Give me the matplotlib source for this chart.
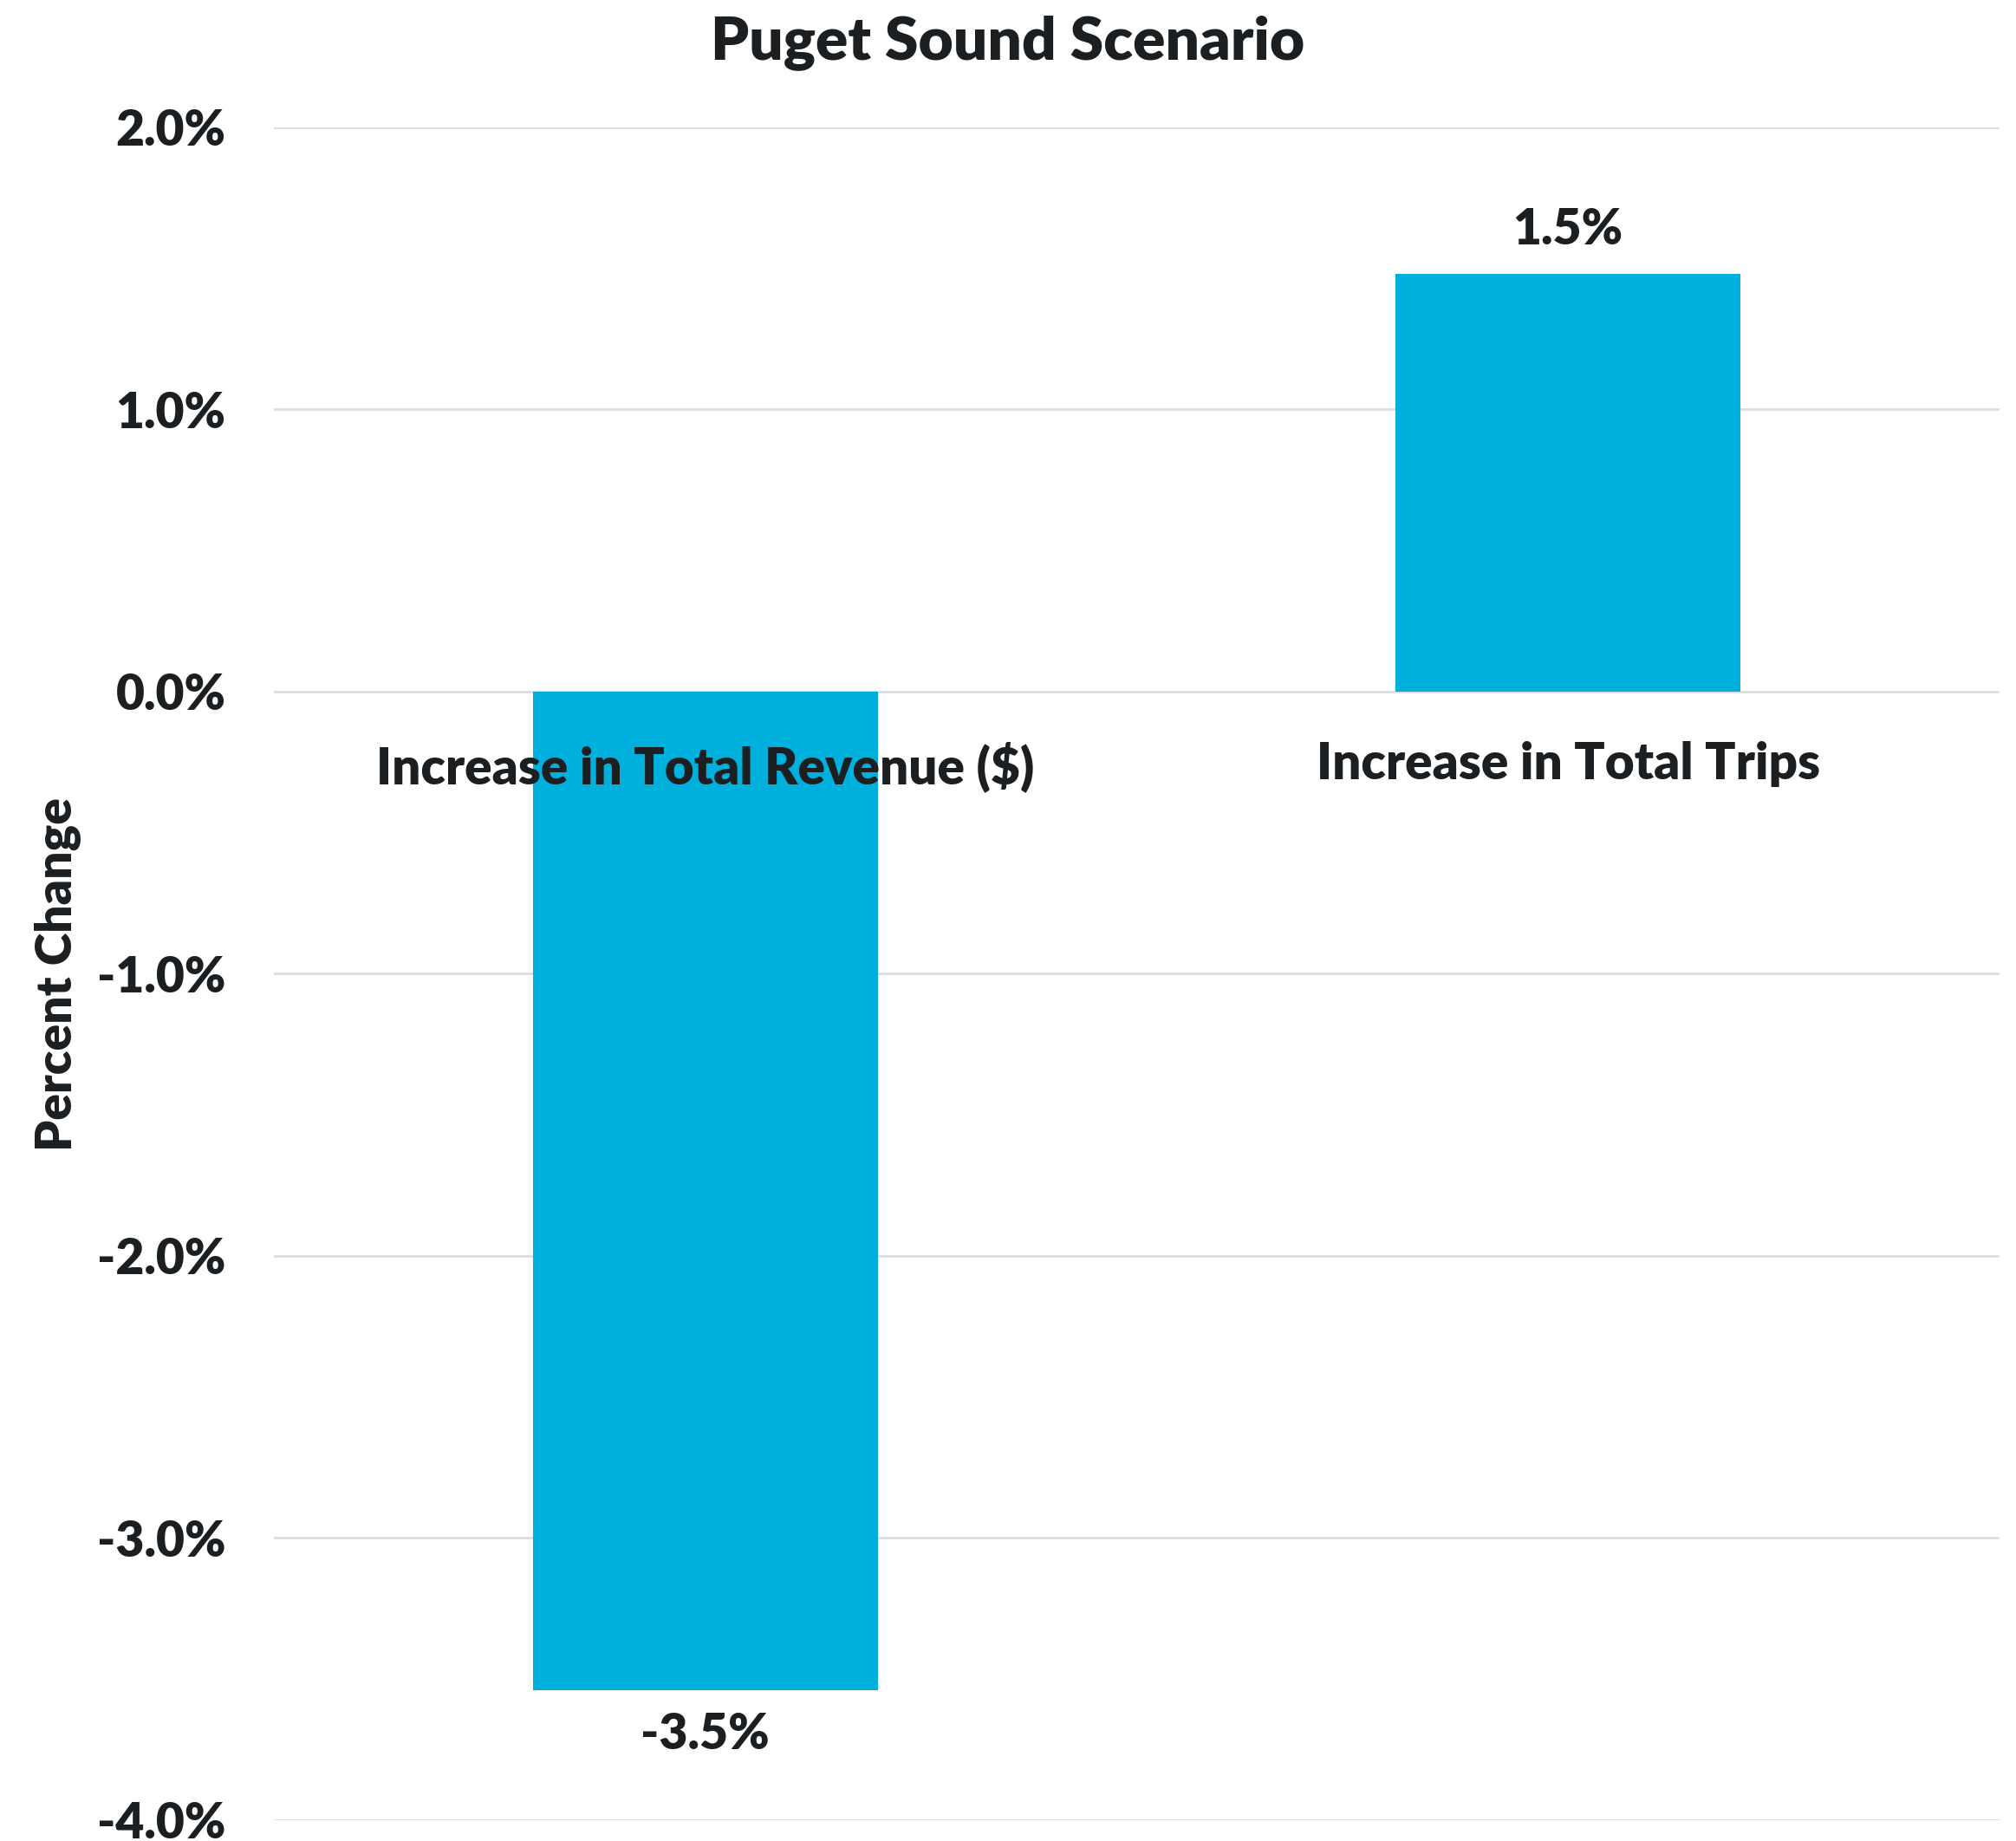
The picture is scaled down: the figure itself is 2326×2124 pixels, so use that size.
import matplotlib
matplotlib.use("Agg")
import matplotlib.pyplot as plt
from matplotlib.ticker import FuncFormatter

# Data
categories = ["Increase in Total Revenue ($)", "Increase in Total Trips"]
values = [-3.54, 1.48]
y_ticks = [-4.0, -3.0, -2.0, -1.0, 0.0, 1.0, 2.0]
title = "Puget Sound Scenario"
y_label = "Percent Change"

BAR_COLOR = "#00b0dc"
TEXT_COLOR = "#1b1f22"
GRID_COLOR = "#dadde1"
WEIGHT = "heavy"

plt.rcParams["font.family"] = ["Lato", "DejaVu Sans"]
plt.rcParams["font.weight"] = WEIGHT

fig = plt.figure(figsize=(23.26, 21.24), dpi=100)
ax = fig.add_axes([0.1359, 0.0113, 0.8559, 0.9195])

x = list(range(len(categories)))
bars = ax.bar(x, values, width=0.4, color=BAR_COLOR, zorder=2)

ax.set_xlim(-0.5, len(categories) - 0.5)
ax.set_ylim(y_ticks[0], y_ticks[-1])
ax.set_yticks(y_ticks)
ax.yaxis.set_major_formatter(FuncFormatter(lambda v, _: f"{v:.1f}%"))
ax.grid(axis="y", color=GRID_COLOR, linewidth=2)
ax.set_axisbelow(True)

for s in ax.spines.values():
    s.set_visible(False)
# Category labels sit just under the zero line, drawn over the bars
ax.spines["bottom"].set_position(("data", 0))
ax.xaxis.set_zorder(5)
ax.set_xticks(x)
ax.set_xticklabels(categories)
ax.tick_params(axis="x", length=0, pad=41, labelsize=42, labelcolor=TEXT_COLOR)
ax.tick_params(axis="y", length=0, pad=40, labelsize=41, labelcolor=TEXT_COLOR)
for lbl in ax.get_xticklabels() + ax.get_yticklabels():
    lbl.set_fontweight(WEIGHT)

# Value labels above / below each bar
for xi, v in zip(x, values):
    ax.annotate(f"{v:.1f}%", (xi, v), xytext=(0, 18 if v >= 0 else -18),
                textcoords="offset points", ha="center",
                va="bottom" if v >= 0 else "top",
                fontsize=41, fontweight=WEIGHT, color=TEXT_COLOR)

fig.text(0.5, 0.977, title, ha="center", va="center", fontsize=50,
         fontweight=WEIGHT, color=TEXT_COLOR)
fig.text(0.029, 0.471, y_label, ha="center", va="center", rotation=90,
         fontsize=41, fontweight=WEIGHT, color=TEXT_COLOR)

fig.savefig("out.png", dpi=100, facecolor="white")
